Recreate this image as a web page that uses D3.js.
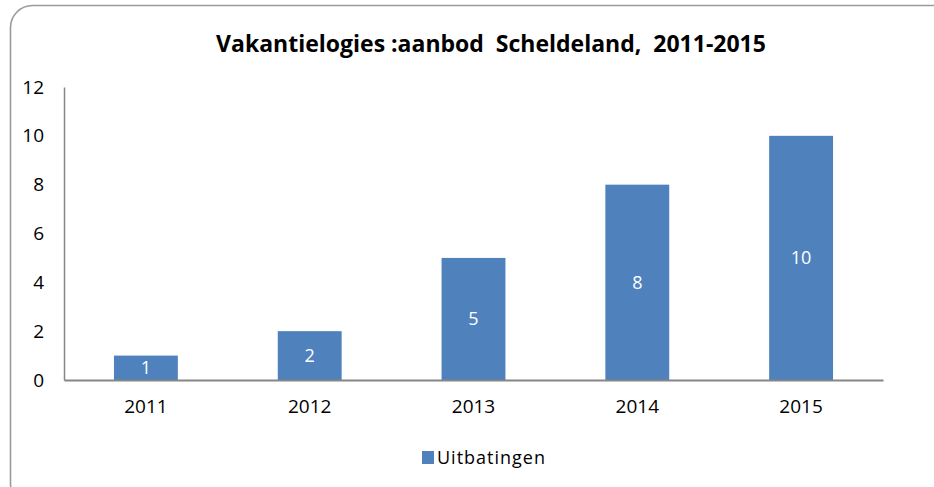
<!DOCTYPE html>
<meta charset="utf-8">
<style>
body { margin: 0; background: #fff; }
text { font-family: "Open Sans", "Liberation Sans", sans-serif; }
</style>
<body>
<svg width="934" height="487"></svg>
<script src="https://d3js.org/d3.v7.min.js"></script>
<script>
var years = ["2011", "2012", "2013", "2014", "2015"];
var uitbatingen = [1, 2, 5, 8, 10];
var yTicks = [0, 2, 4, 6, 8, 10, 12];
var seriesName = "Uitbatingen";
var title = "Vakantielogies :aanbod  Scheldeland,  2011-2015";

var svg = d3.select("svg"),
    margin = {top: 87, right: 51, bottom: 107, left: 64},
    width = +svg.attr("width") - margin.left - margin.right,
    height = +svg.attr("height") - margin.top - margin.bottom;

// frame, runs off the right and bottom edge
svg.append("rect")
    .attr("x", 10.5).attr("y", 5.5)
    .attr("width", 960).attr("height", 500)
    .attr("rx", 22)
    .attr("fill", "none")
    .attr("stroke", "#9a9a9a")
    .attr("stroke-width", 1.6);

svg.append("text")
    .attr("x", 491).attr("y", 52)
    .attr("text-anchor", "middle")
    .style("font-size", "23px")
    .style("font-weight", "bold")
    .style("white-space", "pre")
    .attr("fill", "#000")
    .text(title);

var g = svg.append("g").attr("transform", "translate(" + margin.left + "," + margin.top + ")");

var x = d3.scaleBand()
    .domain(years)
    .range([0, width])
    .paddingInner(0.61)
    .paddingOuter(0.305);

var y = d3.scaleLinear()
    .domain([0, 12])
    .range([height, 0]);

var yAxis = g.append("g")
    .call(d3.axisLeft(y).tickValues(yTicks).tickSize(0).tickPadding(20));
yAxis.select(".domain").attr("stroke", "#868686").attr("stroke-width", 1.5);
yAxis.selectAll("text").style("font-size", "19px").attr("fill", "#000");

g.selectAll(".bar")
  .data(uitbatingen)
  .enter().append("rect")
    .attr("class", "bar")
    .attr("x", function(d, i) { return x(years[i]); })
    .attr("y", function(d) { return y(d); })
    .attr("width", x.bandwidth())
    .attr("height", function(d) { return height - y(d); })
    .attr("fill", "#4f81bd");

g.selectAll(".lbl")
  .data(uitbatingen)
  .enter().append("text")
    .attr("class", "lbl")
    .attr("x", function(d, i) { return x(years[i]) + x.bandwidth() / 2; })
    .attr("y", function(d) { return (y(d) + height) / 2; })
    .attr("dy", "0.35em")
    .attr("text-anchor", "middle")
    .style("font-size", "18px")
    .attr("fill", "#fff")
    .text(function(d) { return d; });

var xAxis = g.append("g")
    .attr("transform", "translate(0," + height + ")")
    .call(d3.axisBottom(x).tickSize(0).tickPadding(20).tickSizeOuter(0));
xAxis.select(".domain").attr("stroke", "#868686").attr("stroke-width", 2);
xAxis.selectAll("text").style("font-size", "19px").attr("fill", "#000");

// legend
var leg = svg.append("g").attr("transform", "translate(422,458)");
leg.append("rect").attr("x", 0).attr("y", -7).attr("width", 12).attr("height", 13).attr("fill", "#4f81bd");
leg.append("text").attr("x", 15).attr("y", 0).attr("dy", "0.35em")
    .style("font-size", "18px").style("letter-spacing", "1px")
    .attr("fill", "#000").text(seriesName);
</script>
</body>
